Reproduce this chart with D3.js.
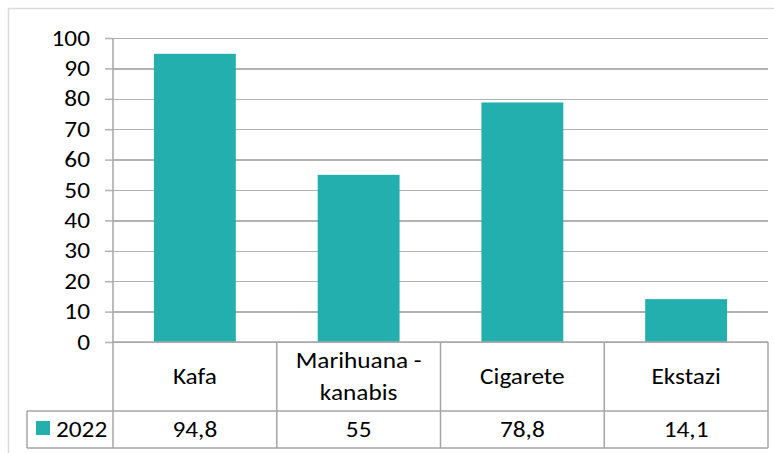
<!DOCTYPE html>
<html>
<head>
<meta charset="utf-8">
<script src="https://cdn.jsdelivr.net/npm/d3@7"></script>
<style>
  html, body { margin: 0; padding: 0; background: #fff; }
  svg { display: block; }
  text { font-family: Carlito, Lato, "Open Sans", sans-serif; fill: #000; }
</style>
</head>
<body>
<svg id="chart" width="774" height="453"></svg>
<script>
// ---- data ----
const categories = ["Kafa", "Marihuana -\nkanabis", "Cigarete", "Ekstazi"];
const seriesName = "2022";
const values = [94.8, 55, 78.8, 14.1];
const yTicks = [0, 10, 20, 30, 40, 50, 60, 70, 80, 90, 100];

// ---- layout ----
const W = 774, H = 453;
const plotL = 113, plotR = 768, plotT = 38, plotB = 342;
const row1B = 411, row2B = 448, tableL = 27;
const barColor = "#24AFAF";
const gridColor = "#b2b2b2";
const lineColor = "#a6a6a6";
const fontSize = 22;
const sx = 1.15; // horizontal stretch of the reference text

const locale = d3.formatLocale({decimal: ",", thousands: ".", grouping: [3], currency: ["", ""]});
const fmt = v => Number.isInteger(v) ? String(v) : locale.format(".1f")(v);

const svg = d3.select("#chart");

// outer border (chart area border, cropped at right/bottom)
svg.append("rect").attr("x", 8.5).attr("y", 8.5).attr("width", W + 10).attr("height", H + 10)
  .attr("fill", "#fff").attr("stroke", "#d9d9d9").attr("stroke-width", 1.5);

const x = d3.scaleBand().domain(categories).range([plotL, plotR]).paddingInner(0.5).paddingOuter(0.25);
const y = d3.scaleLinear().domain([0, 100]).range([plotB, plotT]);
const step = x.step();

// helper: place stretched text
function place(sel, fx, fy) {
  sel.attr("transform", (d, i) => `translate(${fx(d, i)},${fy(d, i)}) scale(${sx},1)`)
     .attr("x", 0).attr("y", 0).attr("font-size", fontSize);
}

// gridlines via axis
const yAxis = d3.axisLeft(y).tickValues(yTicks).tickSize(-(plotR - plotL)).tickFormat("");
const gGrid = svg.append("g").attr("transform", `translate(${plotL},0)`).call(yAxis);
gGrid.select(".domain").remove();
gGrid.selectAll(".tick line").attr("stroke", gridColor).attr("stroke-width", 1.5).attr("shape-rendering", "crispEdges");

// tick marks (outside)
const yTickAx = d3.axisLeft(y).tickValues(yTicks).tickSize(8).tickFormat("");
const gY = svg.append("g").attr("transform", `translate(${plotL},0)`).call(yTickAx);
gY.select(".domain").remove();
gY.selectAll(".tick line").attr("stroke", gridColor).attr("stroke-width", 1.5);

// y labels
svg.append("g").selectAll("text").data(yTicks).join("text")
  .attr("text-anchor", "end")
  .call(place, () => 90, d => y(d) + 7.5)
  .text(d => d);

// bars
svg.append("g").selectAll("rect").data(categories).join("rect")
  .attr("x", d => x(d))
  .attr("width", x.bandwidth())
  .attr("y", (d, i) => y(values[i]))
  .attr("height", (d, i) => y(0) - y(values[i]))
  .attr("fill", barColor);

// table lines
const tl = svg.append("g").attr("stroke", lineColor).attr("stroke-width", 1.5).attr("fill", "none");
tl.append("line").attr("x1", plotL).attr("x2", plotL).attr("y1", plotT).attr("y2", row2B);
tl.append("line").attr("x1", plotL).attr("x2", plotR).attr("y1", plotB).attr("y2", plotB);
const bounds = categories.map(c => x(c) + x.bandwidth() + step * 0.25);
tl.selectAll(".vb").data(bounds).join("line")
  .attr("x1", d => d).attr("x2", d => d).attr("y1", plotB).attr("y2", row2B);
tl.append("line").attr("x1", tableL).attr("x2", plotR).attr("y1", row1B).attr("y2", row1B);
tl.append("line").attr("x1", tableL).attr("x2", plotR).attr("y1", row2B).attr("y2", row2B);
tl.append("line").attr("x1", tableL).attr("x2", tableL).attr("y1", row1B).attr("y2", row2B);

// category labels
const cx = d => x(d) + x.bandwidth() / 2;
const lineH = 32;
const catRows = categories.flatMap(c => {
  const lines = c.split("\n");
  const mid = (plotB + row1B) / 2 + 7;
  const start = mid - (lines.length - 1) * lineH / 2;
  return lines.map((l, i) => ({cat: c, text: l, y: start + i * lineH}));
});
svg.append("g").selectAll("text").data(catRows).join("text")
  .attr("text-anchor", "middle")
  .call(place, d => cx(d.cat), d => d.y)
  .text(d => d.text);

// values row
svg.append("g").selectAll("text").data(categories).join("text")
  .attr("text-anchor", "middle")
  .call(place, d => cx(d), () => (row1B + row2B) / 2 + 7.5)
  .text((d, i) => fmt(values[i]));

// legend key
svg.append("rect").attr("x", 36).attr("y", 421).attr("width", 14).attr("height", 14).attr("fill", barColor);
svg.append("g").selectAll("text").data([seriesName]).join("text")
  .call(place, () => 56, () => (row1B + row2B) / 2 + 7.5)
  .text(d => d);
</script>
</body>
</html>
